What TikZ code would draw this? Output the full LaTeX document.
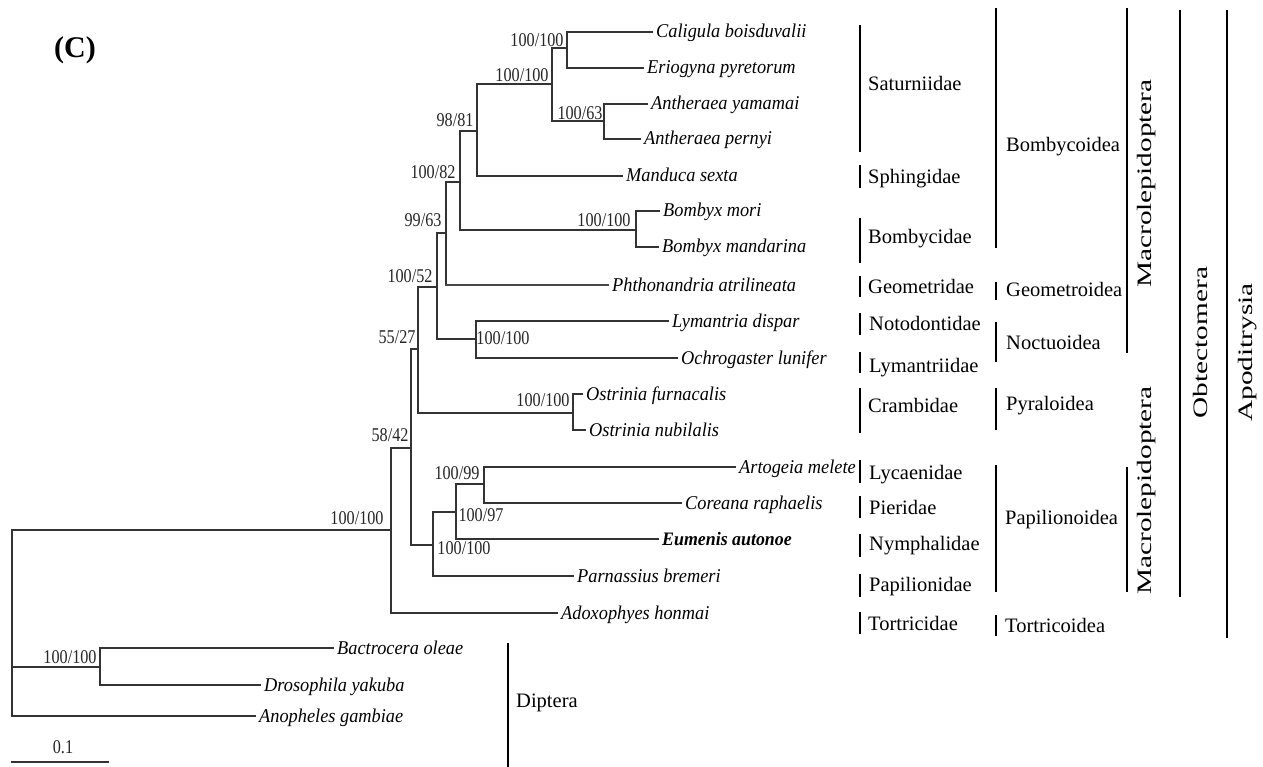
\documentclass[tikz,border=0pt]{standalone}
\usepackage{fontspec}
\setmainfont{Liberation Serif}
\newcommand\bsv[1]{\scalebox{0.83}[1]{#1}}
\newcommand\spn[1]{\scalebox{0.94}[1]{#1}}
\begin{document}
\begin{tikzpicture}[x=1pt,y=-1pt,
 br/.style={line width=2.3pt, draw=black!80, line cap=rect},
 thinbr/.style={line width=1.3pt, draw=black!72, line cap=rect},
 bar/.style={line width=2.7pt, draw=black},
 sp/.style={anchor=west, inner xsep=4pt, inner ysep=0pt, text height=17.5pt, text depth=5.5pt, font=\fontsize{19.5}{21}\selectfont\itshape},
 bs/.style={inner sep=0pt, text height=13pt, text depth=0pt, text=black!85, font=\fontsize{19.5}{21}\selectfont},
 fam/.style={anchor=base west, inner sep=0pt, font=\fontsize{20.5}{22}\selectfont},
 vlab/.style={rotate=90, inner sep=0pt, font=\fontsize{20.5}{22}\selectfont}]
\fill[white] (0,0) rectangle (1263,767);
\useasboundingbox (0,0) rectangle (1263,767);

\node[font=\fontsize{30}{32}\selectfont\bfseries, inner sep=0pt] (lab) at (75,50) {(C)};

% internal nodes
\coordinate (R) at (12,530);
\coordinate (G) at (391,530);
\coordinate (F) at (411,448);
\coordinate (E) at (418,349);
\coordinate (C) at (437,287);
\coordinate (B) at (446,233);
\coordinate (N82) at (460,182);
\coordinate (N98) at (477,131);
\coordinate (Sat) at (552,84);
\coordinate (CE) at (567,48);
\coordinate (Anth) at (604,121);
\coordinate (Bom) at (636,230);
\coordinate (D) at (476,339);
\coordinate (Os) at (573,413);
\coordinate (H1) at (433,545);
\coordinate (H2) at (456,512);
\coordinate (AC) at (484,484);
\coordinate (Dip) at (100,667);

% leaves
\node[sp] (cal) at (652,32) {\spn{Caligula boisduvalii}};
\node[sp] (eri) at (643,68) {\spn{Eriogyna pyretorum}};
\node[sp] (yam) at (647,104) {\spn{Antheraea yamamai}};
\node[sp] (per) at (640,139) {\spn{Antheraea pernyi}};
\node[sp] (man) at (622,176) {\spn{Manduca sexta}};
\node[sp] (mor) at (659,211) {\spn{Bombyx mori}};
\node[sp] (mand) at (658,247) {\spn{Bombyx mandarina}};
\node[sp] (phth) at (608,285) {\spn{Phthonandria atrilineata}};
\node[sp] (lym) at (668,321) {\spn{Lymantria dispar}};
\node[sp] (och) at (677,358) {\spn{Ochrogaster lunifer}};
\node[sp] (fur) at (582,394) {\spn{Ostrinia furnacalis}};
\node[sp] (nub) at (585,430) {\spn{Ostrinia nubilalis}};
\node[sp] (art) at (735,467) {\spn{Artogeia melete}};
\node[sp] (cor) at (681,503) {\spn{Coreana raphaelis}};
\node[sp, font=\fontsize{19}{21}\selectfont\bfseries\itshape] (eum) at (658,539) {\spn{Eumenis autonoe}};
\node[sp] (par) at (573,576) {\spn{Parnassius bremeri}};
\node[sp] (ado) at (557,613) {\spn{Adoxophyes honmai}};
\node[sp] (bac) at (333,648) {\spn{Bactrocera oleae}};
\node[sp] (dro) at (260,685) {\spn{Drosophila yakuba}};
\node[sp] (ano) at (255,716) {\spn{Anopheles gambiae}};

% branches
\draw[br] (R) |- (G);
\draw[br] (R) |- (Dip);
\draw[br] (R) |- (ano.west);
\draw[br] (G) |- (F);
\draw[br] (G) |- (ado.west);
\draw[br] (F) |- (E);
\draw[br] (F) |- (H1);
\draw[br] (E) |- (C);
\draw[br] (E) |- (Os);
\draw[br] (C) |- (B);
\draw[br] (C) |- (D);
\draw[br] (B) |- (N82);
\draw[br] (B) -- (B |- phth.west);
\draw[thinbr] (B |- phth.west) -- (phth.west);
\draw[br] (N82) |- (N98);
\draw[br] (N82) |- (Bom);
\draw[br] (N98) |- (Sat);
\draw[br] (N98) |- (man.west);
\draw[br] (Sat) |- (CE);
\draw[br] (Sat) |- (Anth);
\draw[br] (CE) |- (cal.west);
\draw[br] (CE) |- (eri.west);
\draw[br] (Anth) |- (yam.west);
\draw[br] (Anth) |- (per.west);
\draw[br] (Bom) |- (mor.west);
\draw[br] (Bom) |- (mand.west);
\draw[br] (D) |- (lym.west);
\draw[br] (D) |- (och.west);
\draw[br] (Os) |- (fur.west);
\draw[br] (Os) |- (nub.west);
\draw[br] (H1) |- (H2);
\draw[br] (H1) |- (par.west);
\draw[br] (H2) |- (AC);
\draw[br] (H2) |- (eum.west);
\draw[br] (AC) |- (art.west);
\draw[br] (AC) |- (cor.west);
\draw[br] (Dip) |- (bac.west);
\draw[br] (Dip) |- (dro.west);

% support values
\node[bs] (s1) at (537,40) {\bsv{100/100}};
\node[bs] (s2) at (522,75) {\bsv{100/100}};
\node[bs] (s3) at (580,113) {\bsv{100/63}};
\node[bs] (s4) at (455,120) {\bsv{98/81}};
\node[bs] (s5) at (433,172) {\bsv{100/82}};
\node[bs] (s6) at (423,220) {\bsv{99/63}};
\node[bs] (s7) at (604,220) {\bsv{100/100}};
\node[bs] (s8) at (410,276) {\bsv{100/52}};
\node[bs] (s9) at (397,337) {\bsv{55/27}};
\node[bs] (s10) at (390,435) {\bsv{58/42}};
\node[bs] (s11) at (503,338) {\bsv{100/100}};
\node[bs] (s12) at (543,400) {\bsv{100/100}};
\node[bs] (s13) at (457,473) {\bsv{100/99}};
\node[bs] (s14) at (481,515) {\bsv{100/97}};
\node[bs] (s15) at (464,548) {\bsv{100/100}};
\node[bs] (s16) at (357,518) {\bsv{100/100}};
\node[bs] (s17) at (70,657) {\bsv{100/100}};

% scale bar
\coordinate (sb1) at (12,762);
\coordinate (sb2) at (108,762);
\draw[br] (sb1) -- (sb2);
\node[bs] (sbl) at (63,747) {\bsv{0.1}};

% family bars
\draw[bar] (860,25) -- (860,152);
\node[fam] (f1) at (868,91) {Saturniidae};
\draw[bar] (860,165) -- (860,188);
\node[fam] (f2) at (868,184) {Sphingidae};
\draw[bar] (860,218) -- (860,263);
\node[fam] (f3) at (868,244) {Bombycidae};
\draw[bar] (860,276) -- (860,297);
\node[fam] (f4) at (868,294) {Geometridae};
\draw[bar] (860,313) -- (860,335);
\node[fam] (f5) at (869,330) {Notodontidae};
\draw[bar] (860,352) -- (860,373);
\node[fam] (f6) at (869,372) {Lymantriidae};
\draw[bar] (860,388) -- (860,433);
\node[fam] (f7) at (868,412) {Crambidae};
\draw[bar] (860,460) -- (860,483);
\node[fam] (f8) at (869,479) {Lycaenidae};
\draw[bar] (860,496) -- (860,518);
\node[fam] (f9) at (869,514) {Pieridae};
\draw[bar] (860,534) -- (860,557);
\node[fam] (f10) at (869,550) {Nymphalidae};
\draw[bar] (860,574) -- (860,597);
\node[fam] (f11) at (869,591) {Papilionidae};
\draw[bar] (860,612) -- (860,634);
\node[fam] (f12) at (868,630) {Tortricidae};

% superfamily bars
\draw[bar] (996,8) -- (996,248);
\node[fam] (g1) at (1006,152) {Bombycoidea};
\draw[bar] (996,282) -- (996,300);
\node[fam] (g2) at (1006,297) {Geometroidea};
\draw[bar] (996,322) -- (996,362);
\node[fam] (g3) at (1006,349) {Noctuoidea};
\draw[bar] (996,388) -- (996,430);
\node[fam] (g4) at (1006,410) {Pyraloidea};
\draw[bar] (996,465) -- (996,592);
\node[fam] (g5) at (1005,524) {Papilionoidea};
\draw[bar] (996,615) -- (996,636);
\node[fam] (g6) at (1005,632) {Tortricoidea};

% higher groups
\draw[bar] (1127,8) -- (1127,353);
\node[vlab] (m1) at (1146.5,183.5) {\scalebox{1.43}[1]{Macrolepidoptera}};
\draw[bar] (1127,467) -- (1127,592);
\node[vlab] (m2) at (1146.5,490.5) {\scalebox{1.43}[1]{Macrolepidoptera}};
\draw[bar] (1180,10) -- (1180,597);
\node[vlab] (ob) at (1200,342.5) {\scalebox{1.43}[1]{Obtectomera}};
\draw[bar] (1227,10) -- (1227,638);
\node[vlab] (ap) at (1247.5,352.5) {\scalebox{1.43}[1]{Apoditrysia}};

% Diptera
\draw[bar] (508,643) -- (508,767);
\node[fam] (dip) at (516,707) {Diptera};
\end{tikzpicture}
\end{document}
